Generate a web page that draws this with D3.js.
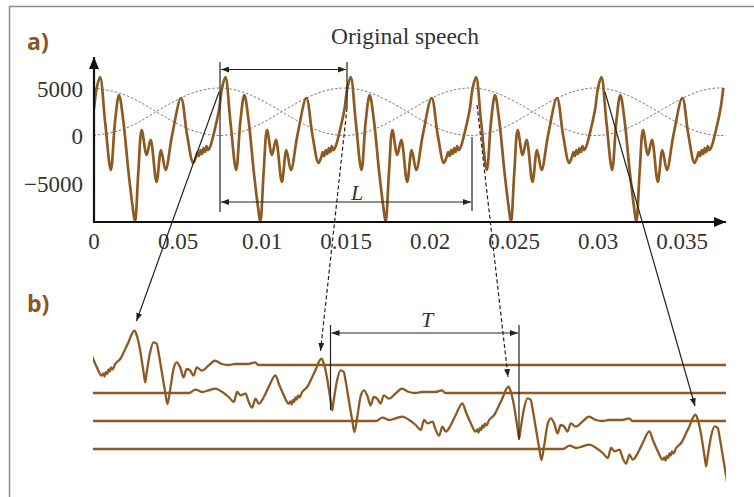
<!DOCTYPE html>
<html>
<head>
<meta charset="utf-8">
<script src="https://cdn.jsdelivr.net/npm/d3@7"></script>
<style>
  body { margin: 0; background: #fff; }
  svg { display: block; }
</style>
</head>
<body>
<svg id="chart" width="754" height="497"></svg>
<script>
// ---------- data ----------
// time axis ticks (ms) and their printed labels
const xTicks = [0, 5, 10, 15, 20, 25, 30, 35];
const xTickLabels = ["0", "0.05", "0.01", "0.015", "0.02", "0.025", "0.03", "0.035"];
const yTicks = [5000, 0, -5000];
const yTickLabels = ["5000", "0", "\u22125000"];

// one pitch period of the voiced speech: offset from the glottal peak (ms) and amplitude
const cycleOffsets = [0, 0.30, 0.64, 0.89, 1.13, 1.39, 1.69, 1.95, 2.08, 2.28, 2.48, 2.77, 3.01,
  3.36, 3.63, 3.90, 4.29, 4.82, 5.18, 5.54, 5.71, 5.80, 5.89, 5.98, 6.07, 6.16, 6.25, 6.34,
  6.43, 6.55, 6.85, 7.08, 7.26];
const cycleValues = [6160, 1450, -3630, 1450, 4260, 1450, -3810, -7630, -9100, -3810, 580, -2050, -470,
  -4890, -1530, -3630, 50, 3950, 50, -2890, -2260, -1740, -2160, -1530, -1950, -1320, -1740, -1110,
  -1530, -1210, 790, 2680, 5000];
const pitchPeriod = 7.46;   // ms
const firstPeak = 0.39;     // ms
const signalEnd = 37.55;    // ms

// overlapping analysis windows, sampled every eighth of a window period
const windowShape = [5000, 4270, 2500, 730, 0, 730, 2500, 4270];
const windowPeriod = 14.94; // ms

// panel b: the extracted waveform frame, offset from its peak (ms) and amplitude
const frameOffsets = [-7.89, -7.50, -7.10, -6.71, -6.31, -5.91, -5.52, -5.22, -5.02, -4.82, -4.52, -4.33,
  -4.13, -3.93, -3.73, -3.43, -3.14, -2.74, -2.54, -2.24, -1.95, -1.85, -1.78, -1.70, -1.62, -1.55,
  -1.47, -1.40, -1.32, -1.15, -0.85, -0.55, -0.36, -0.16, 0, 0.14, 0.34, 0.54, 0.64, 0.73, 0.93,
  1.13, 1.33, 1.43, 1.63, 1.83, 1.96, 2.13, 2.32, 2.52, 2.72, 2.92, 3.11, 3.32, 3.51, 3.71, 4.01,
  4.40, 4.80, 5.20, 5.60, 5.99, 6.79, 7.18, 7.38];
const frameValues = [0, 330, 100, 270, 430, 100, -400, -900, 100, -230, -70, -900,
  -1470, -570, -1070, -400, 600, 1770, 930, -230, -1070, -850, -1150, -700, -900, -450,
  -650, -250, -450, 100, 600, 1600, 2270, 3100, 3430, 2930, 1430, -730, -1730, -730, 1270,
  2270, 2100, 1270, -730, -2730, -3900, -2400, -400, 270, -230, -1230, -400, -570, -1070, -230, -570,
  -70, 430, 100, 0, 100, 100, 270, 0];
// frame peak positions along the panel b time line (ms)
const framePeaks = [2.44, 13.57, 24.70, 35.83];

// ---------- layout ----------
const brown = "#8d5a22";
const ink = "#222";
const svg = d3.select("#chart");
const defs = svg.append("defs");

function addMarker(id, len, half, color) {
  defs.append("marker")
    .attr("id", id)
    .attr("viewBox", `0 ${-half} ${len} ${2 * half}`)
    .attr("refX", len).attr("refY", 0)
    .attr("markerWidth", len).attr("markerHeight", 2 * half)
    .attr("markerUnits", "userSpaceOnUse")
    .attr("orient", "auto-start-reverse")
    .append("path")
    .attr("d", `M0,${-half}L${len},0L0,${half}Z`)
    .attr("fill", color);
}
addMarker("head", 8, 3, ink);
addMarker("axisHead", 12, 5, "#111");

defs.append("clipPath").attr("id", "clipA")
  .append("rect").attr("x", 94).attr("y", 40).attr("width", 631.5).attr("height", 200);
defs.append("clipPath").attr("id", "clipB")
  .append("rect").attr("x", 93).attr("y", 300).attr("width", 633).attr("height", 190);

// outer frame
svg.append("rect").attr("x", 9.5).attr("y", 6.5).attr("width", 800).attr("height", 600)
  .attr("fill", "none").attr("stroke", "#8f8f8f").attr("stroke-width", 1.5);

// ---------- panel a ----------
const xA = d3.scaleLinear().domain([0, 35]).range([93.5, 681.5]);
const yA = d3.scaleLinear().domain([-5000, 5000]).range([183, 88]);

const speech = [];
for (let k = -1; k <= 5; k++) {
  cycleOffsets.forEach((o, i) => {
    const t = firstPeak + k * pitchPeriod + o;
    if (t >= -0.6 && t <= signalEnd) speech.push([t, cycleValues[i]]);
  });
}
const windowA = [], windowB = [];
for (let k = 0; k <= 21; k++) {
  const t = k * windowPeriod / 8;
  windowA.push([t, windowShape[k % 8]]);
  windowB.push([t, windowShape[(k + 4) % 8]]);
}

const lineA = d3.line().x(d => xA(d[0])).y(d => yA(d[1]));
const gA = svg.append("g").attr("clip-path", "url(#clipA)");
[windowA, windowB].forEach(w => {
  gA.append("path").datum(w)
    .attr("d", lineA.curve(d3.curveNatural))
    .attr("fill", "none").attr("stroke", "#7d7d7d")
    .attr("stroke-width", 1).attr("stroke-dasharray", "2.5,1.8");
});
gA.append("path").datum(speech)
  .attr("d", lineA.curve(d3.curveCatmullRom.alpha(0.5)))
  .attr("fill", "none").attr("stroke", brown)
  .attr("stroke-width", 2.7).attr("stroke-linejoin", "round");

// axes
const serif = "'Liberation Serif', 'DejaVu Serif', serif";
const xAxis = d3.axisBottom(xA).tickValues(xTicks)
  .tickFormat((d, i) => xTickLabels[i]).tickSize(0).tickPadding(11);
const gx = svg.append("g").attr("transform", `translate(0,222)`).call(xAxis);
const yAxis = d3.axisLeft(yA).tickValues(yTicks)
  .tickFormat((d, i) => yTickLabels[i]).tickSize(0).tickPadding(11);
const gy = svg.append("g").attr("transform", `translate(94,0)`).call(yAxis);
[gx, gy].forEach(g => {
  g.select(".domain").remove();
  g.selectAll("text").attr("font-family", serif).attr("font-size", 23).attr("fill", "#333");
});
gy.selectAll("text").attr("dy", "0.36em");

svg.append("line").attr("x1", 93).attr("y1", 222).attr("x2", 726).attr("y2", 222)
  .attr("stroke", "#111").attr("stroke-width", 2.2).attr("marker-end", "url(#axisHead)");
svg.append("line").attr("x1", 94).attr("y1", 223).attr("x2", 94).attr("y2", 57)
  .attr("stroke", "#111").attr("stroke-width", 2.2).attr("marker-end", "url(#axisHead)");

svg.append("text").attr("x", 405).attr("y", 44).attr("text-anchor", "middle")
  .attr("font-family", serif).attr("font-size", 23.5).attr("fill", "#333")
  .text("Original speech");

// period annotation L
function seg(x1, y1, x2, y2, opts = {}) {
  const l = svg.append("line").attr("x1", x1).attr("y1", y1).attr("x2", x2).attr("y2", y2)
    .attr("stroke", ink).attr("stroke-width", 1.2);
  if (opts.start) l.attr("marker-start", "url(#head)");
  if (opts.end) l.attr("marker-end", "url(#head)");
  if (opts.dash) l.attr("stroke-dasharray", "4,2.5");
  return l;
}
seg(220, 62, 220, 212);
seg(347, 62, 347, 108);
seg(472, 137, 472, 211);
seg(221, 69.5, 346, 69.5, { start: true, end: true });
seg(221, 202, 471, 202, { start: true, end: true });
svg.append("text").attr("x", 357).attr("y", 200).attr("text-anchor", "middle")
  .attr("font-family", serif).attr("font-style", "italic").attr("font-size", 22)
  .attr("fill", "#333").text("L");

// ---------- panel b ----------
const rowBase = [365, 393, 421, 449];
const ampB = d3.scaleLinear().domain([-4000, 4000]).range([40, -40]);
const gB = svg.append("g").attr("clip-path", "url(#clipB)");
framePeaks.forEach((p, r) => {
  const pts = [[-20, 0]];
  frameOffsets.forEach((o, i) => pts.push([p + o, frameValues[i]]));
  pts.push([60, 0]);
  gB.append("path").datum(pts)
    .attr("d", d3.line().x(d => xA(d[0])).y(d => rowBase[r] + ampB(d[1]))
      .curve(d3.curveMonotoneX))
    .attr("fill", "none").attr("stroke", brown)
    .attr("stroke-width", 2.3).attr("stroke-linejoin", "round");
});

// pitch lag annotation T
seg(330.5, 325, 330.5, 410);
seg(519, 325, 519, 440);
seg(331.5, 333, 518, 333, { start: true, end: true });
svg.append("text").attr("x", 427).attr("y", 327).attr("text-anchor", "middle")
  .attr("font-family", serif).attr("font-style", "italic").attr("font-size", 22)
  .attr("fill", "#333").text("T");

// links from the pitch peaks in a) to the frames in b)
seg(219, 92, 136.5, 321, { end: true });
seg(347, 108, 320.5, 351, { end: true, dash: true });
seg(477, 105, 508, 377, { end: true, dash: true });
seg(605, 92, 695, 406, { end: true });

// panel letters
const sans = "'Open Sans', 'DejaVu Sans', sans-serif";
svg.append("text").attr("x", 27).attr("y", 50).attr("font-family", sans)
  .attr("font-weight", 700).attr("font-size", 23).attr("fill", "#8a5526").text("a)");
svg.append("text").attr("x", 27).attr("y", 312).attr("font-family", sans)
  .attr("font-weight", 700).attr("font-size", 23).attr("fill", "#8a5526").text("b)");
</script>
</body>
</html>
